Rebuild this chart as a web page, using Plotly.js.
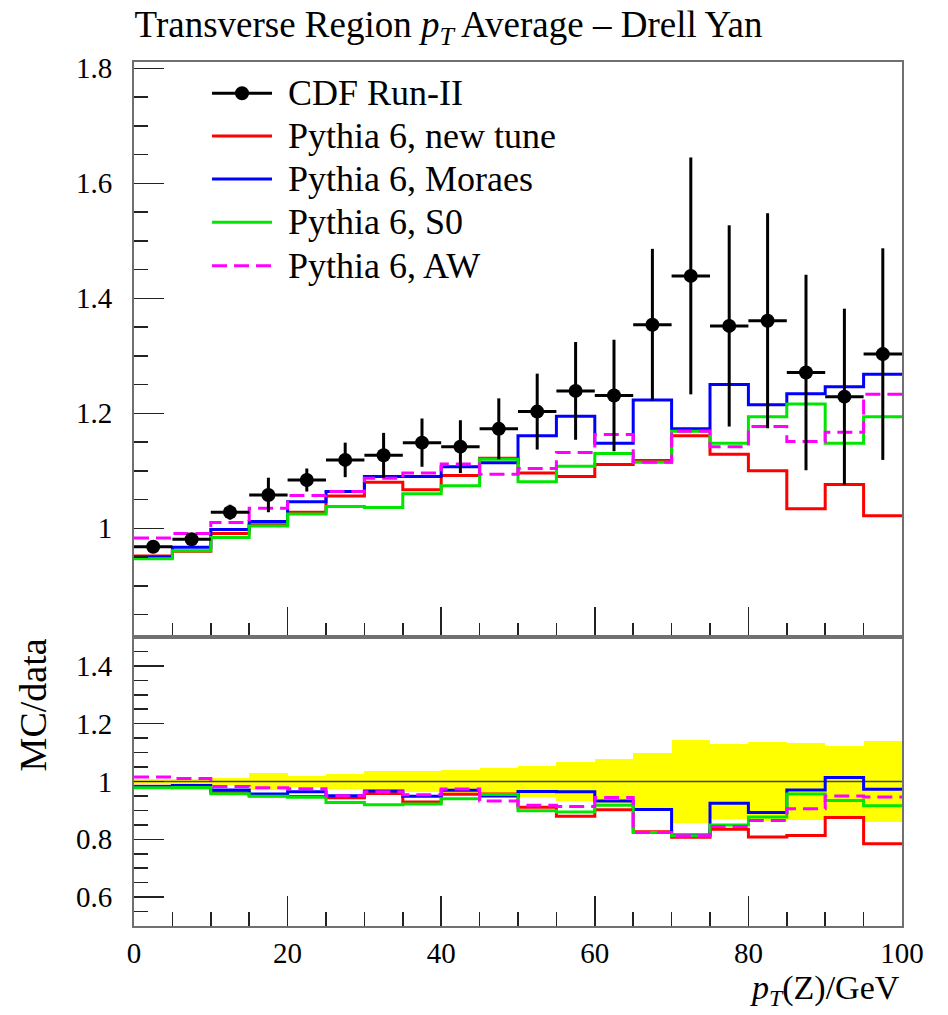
<!DOCTYPE html>
<html>
<head>
<meta charset="utf-8">
<script src="https://cdn.plot.ly/plotly-3.0.1.min.js"></script>
<style>html,body{margin:0;padding:0;background:#fff;} #chart{width:948px;height:1015px;}</style>
</head>
<body>
<div id="chart"></div>
<script>
// ---- data ----
var binEdges = [0,5,10,15,20,25,30,35,40,45,50,55,60,65,70,75,80,85,90,95,100];
var binCenters = [2.5,7.5,12.5,17.5,22.5,27.5,32.5,37.5,42.5,47.5,52.5,57.5,62.5,67.5,72.5,77.5,82.5,87.5,92.5,97.5];
var cdfValues = [0.968,0.981,1.028,1.058,1.084,1.119,1.127,1.149,1.142,1.173,1.203,1.239,1.231,1.354,1.439,1.352,1.361,1.271,1.229,1.303];
var cdfErrors = [0.008,0.010,0.013,0.030,0.020,0.030,0.039,0.042,0.046,0.053,0.066,0.085,0.097,0.132,0.206,0.175,0.187,0.170,0.153,0.184];
var newTune = [0.952,0.960,0.991,1.006,1.028,1.056,1.080,1.067,1.092,1.122,1.096,1.090,1.111,1.118,1.161,1.129,1.100,1.034,1.076,1.022];
var moraes  = [0.950,0.967,0.998,1.012,1.046,1.064,1.090,1.090,1.107,1.114,1.161,1.195,1.148,1.223,1.173,1.250,1.215,1.234,1.246,1.268];
var s0      = [0.947,0.961,0.984,1.004,1.025,1.038,1.036,1.060,1.074,1.120,1.081,1.108,1.130,1.115,1.169,1.148,1.194,1.216,1.148,1.194];
var aw      = [0.983,0.991,1.010,1.035,1.057,1.064,1.087,1.096,1.112,1.094,1.104,1.132,1.163,1.115,1.169,1.142,1.177,1.151,1.167,1.233];
var seriesNames = ["CDF Run-II","Pythia 6, new tune","Pythia 6, Moraes","Pythia 6, S0","Pythia 6, AW"];
var xTickVals = [0,20,40,60,80,100];
var refX = [0,100], refY = [1,1];

// ---- styles ----
var FONT = "Liberation Serif";
var mcStyles = [
  {vals:newTune, color:"#ff0000", dash:"solid"},
  {vals:moraes,  color:"#0000ff", dash:"solid"},
  {vals:s0,      color:"#00e600", dash:"solid"},
  {vals:aw,      color:"#ff00ff", dash:"15px,7px"}
];

function stepY(v){ return v.concat([v[v.length-1]]); }

var traces = [];
// ratio band
var rel = cdfErrors.map(function(e,i){ return e/cdfValues[i]; });
traces.push({type:"bar", x:binCenters, y:rel.map(function(r){return 2*r;}), base:rel.map(function(r){return 1-r;}),
  width:5, marker:{color:"#ffff00", line:{width:0}}, xaxis:"x2", yaxis:"y2", hoverinfo:"skip", showlegend:false});
traces.push({type:"scatter", mode:"lines", x:refX, y:refY, line:{color:"#444", width:1.5}, xaxis:"x2", yaxis:"y2", hoverinfo:"skip", showlegend:false});

mcStyles.forEach(function(s, k){
  traces.push({type:"scatter", mode:"lines", x:binEdges, y:stepY(s.vals), line:{shape:"hv", color:s.color, width:3, dash:s.dash},
    xaxis:"x", yaxis:"y", name:seriesNames[k+1], showlegend:false, hoverinfo:"skip"});
  var ratio = s.vals.map(function(v,i){ return v/cdfValues[i]; });
  traces.push({type:"scatter", mode:"lines", x:binEdges, y:stepY(ratio), line:{shape:"hv", color:s.color, width:3, dash:s.dash},
    xaxis:"x2", yaxis:"y2", showlegend:false, hoverinfo:"skip"});
});

traces.push({type:"scatter", mode:"markers", x:binCenters, y:cdfValues, name:seriesNames[0],
  marker:{color:"#000", size:14},
  error_y:{type:"data", array:cdfErrors, visible:true, color:"#000", thickness:3, width:0},
  error_x:{type:"constant", value:2.5, visible:true, color:"#000", thickness:3, width:0},
  xaxis:"x", yaxis:"y", showlegend:false, hoverinfo:"skip"});

// ---- custom legend (paper coords) ----
var legRows = [0.9638,0.9144,0.8646,0.8145,0.7642];
var legX0 = 0.1016, legX1 = 0.1797, legText = 0.1979;
var legColors = ["#000","#ff0000","#0000ff","#00e600","#ff00ff"];
var legDash = ["solid","solid","solid","solid","15px,7px"];
var shapes = [], annotations = [];
legRows.forEach(function(yy,i){
  shapes.push({type:"line", xref:"paper", yref:"paper", x0:legX0, x1:legX1, y0:yy, y1:yy, line:{color:legColors[i], width:3, dash:legDash[i]}});
  annotations.push({xref:"paper", yref:"paper", x:legText, y:yy, xanchor:"left", yanchor:"middle", showarrow:false,
    text:seriesNames[i], font:{family:FONT, size:36, color:"#000"}});
});
shapes.push({type:"circle", xref:"paper", yref:"paper", xsizemode:"pixel", ysizemode:"pixel",
  xanchor:(legX0+legX1)/2, yanchor:legRows[0], x0:-7, x1:7, y0:-7, y1:7, fillcolor:"#000", line:{width:0}});

annotations.push({xref:"paper", yref:"paper", x:1, y:-0.0745, xanchor:"right", yanchor:"middle", showarrow:false,
  text:"<i>p</i><sub><i>T</i></sub>(Z)/GeV", font:{family:FONT, size:34, color:"#000"}});
annotations.push({xref:"paper", yref:"paper", x:-0.131, y:0.2558, xanchor:"center", yanchor:"middle", showarrow:false, textangle:-90,
  text:"MC/data", font:{family:FONT, size:38, color:"#000"}});

var axCommon = {showline:true, mirror:true, linecolor:"#707070", linewidth:2, ticks:"inside", ticklen:30, tickwidth:1.5, tickcolor:"#222",
  showgrid:false, zeroline:false, tickfont:{family:FONT, size:29, color:"#000"}};
function ax(extra){ var o = {}; for (var k in axCommon) o[k]=axCommon[k]; for (var k2 in extra) o[k2]=extra[k2]; return o; }

var layout = {
  width:948, height:1015,
  margin:{l:134, r:46, t:62, b:89},
  paper_bgcolor:"#fff", plot_bgcolor:"rgba(0,0,0,0)",
  showlegend:false, bargap:0,
  font:{family:FONT, color:"#000"},
  title:{text:"Transverse Region <i>p</i><sub><i>T</i></sub> Average \u2013 Drell Yan", font:{family:FONT, size:37, color:"#000"},
    x:0.142, xanchor:"left", xref:"container", y:0.976, yref:"container", yanchor:"middle"},
  xaxis: ax({domain:[0,1], range:[0,100], anchor:"y", tickvals:xTickVals, showticklabels:false,
    minor:{dtick:5, tick0:0, ticks:"inside", ticklen:14, tickwidth:1.5, tickcolor:"#222"}}),
  yaxis: ax({domain:[0.3345,1], range:[0.811,1.811], anchor:"x", dtick:0.2, tick0:0, ticklabelstandoff:14,
    minor:{dtick:0.05, tick0:0, ticks:"inside", ticklen:14, tickwidth:1.5, tickcolor:"#222"}}),
  xaxis2: ax({domain:[0,1], range:[0,100], anchor:"y2", tickvals:xTickVals, ticklabelstandoff:0,
    minor:{dtick:5, tick0:0, ticks:"inside", ticklen:14, tickwidth:1.5, tickcolor:"#222"}}),
  yaxis2: ax({domain:[0,0.3345], range:[0.5,1.5], anchor:"x2", dtick:0.2, tick0:0, ticklabelstandoff:14,
    minor:{dtick:0.05, tick0:0, ticks:"inside", ticklen:14, tickwidth:1.5, tickcolor:"#222"}}),
  shapes:shapes, annotations:annotations
};

Plotly.newPlot("chart", traces, layout, {staticPlot:true, displayModeBar:false});
</script>
</body>
</html>
